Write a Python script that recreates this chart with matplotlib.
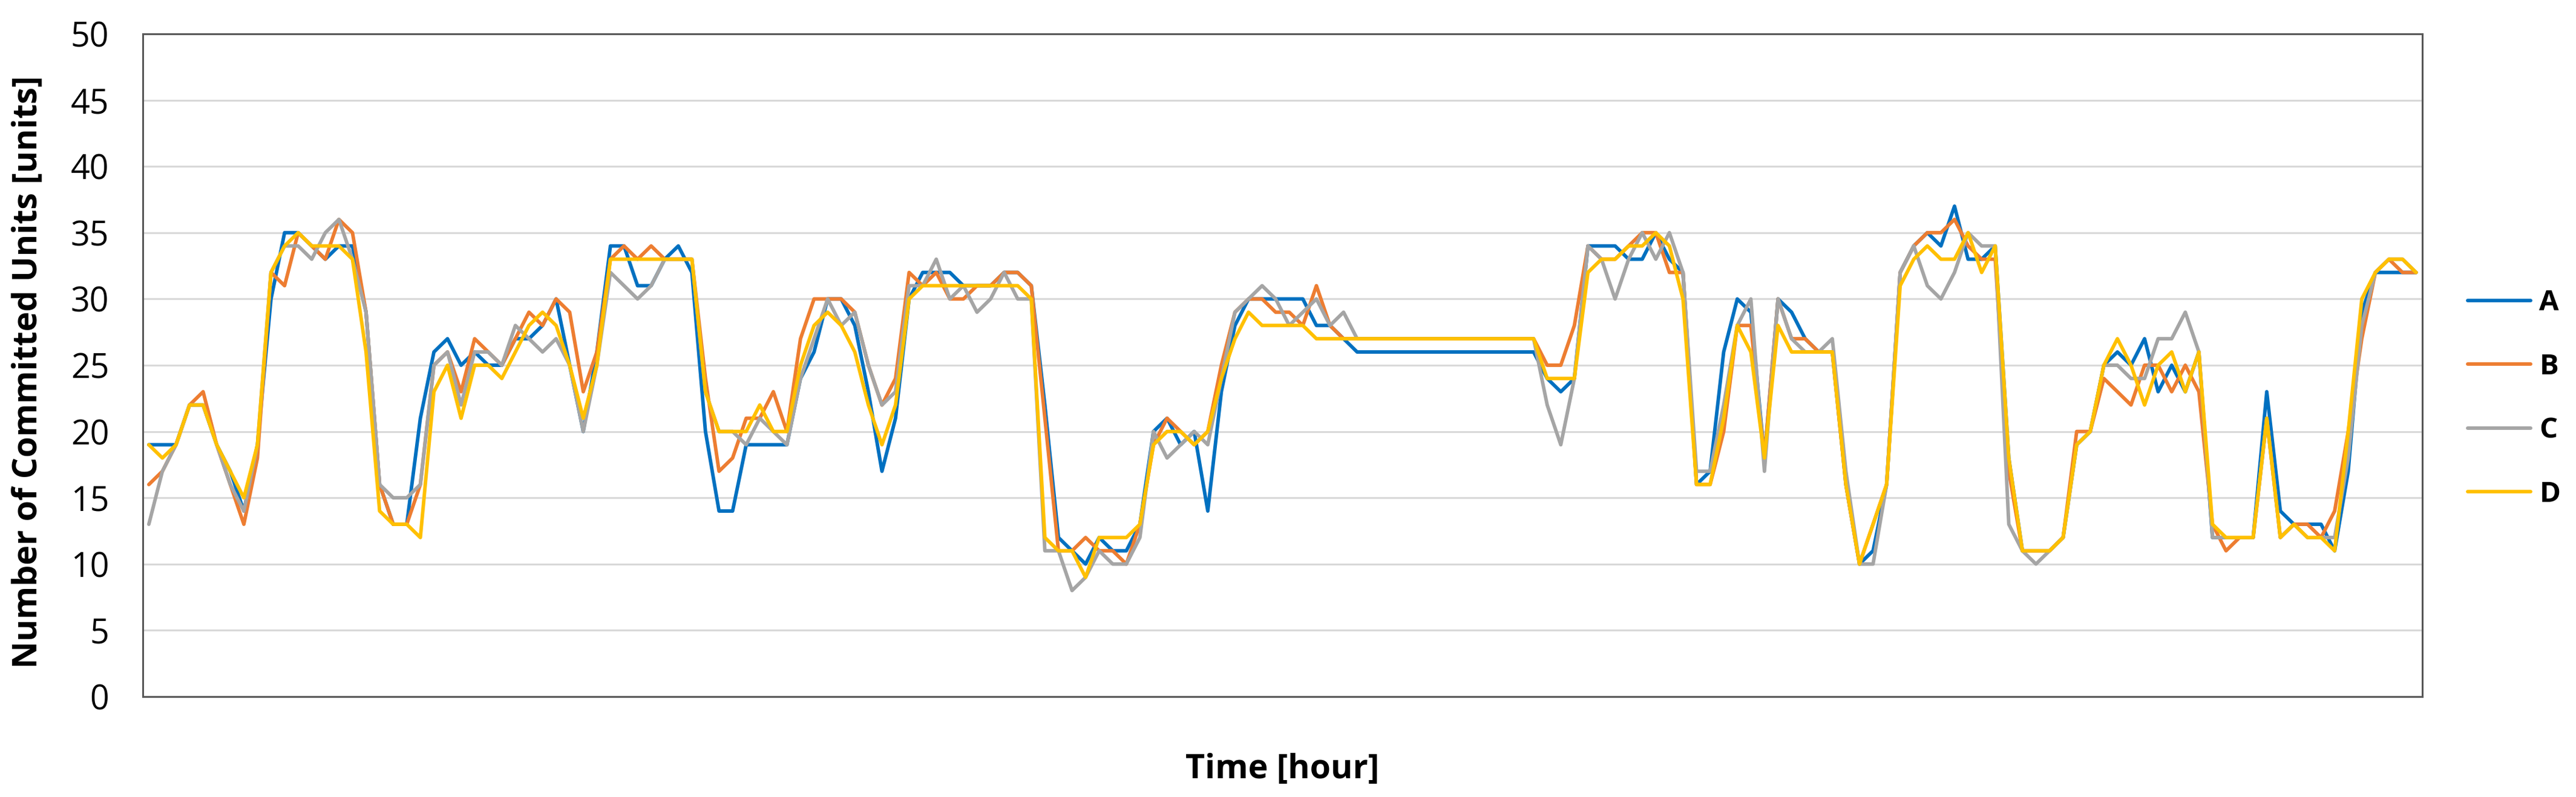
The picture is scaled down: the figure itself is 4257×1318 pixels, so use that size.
import matplotlib
matplotlib.use("Agg")
import matplotlib.pyplot as plt
import numpy as np

plt.rcParams['font.family'] = ['Open Sans', 'DejaVu Sans']

series_names = ["A", "B", "C", "D"]
colors = ["#0070C0", "#ED7D31", "#A5A5A5", "#FFC000"]

A = [19, 19, 19, 22, 22, 19, 17, 14, 19, 30, 35, 35, 34, 33, 34, 34, 29, 16, 13, 13,
     21, 26, 27, 25, 26, 25, 25, 27, 27, 28, 30, 25, 20, 26, 34, 34, 31, 31, 33, 34,
     32, 20, 14, 14, 19, 19, 19, 19, 24, 26, 30, 30, 28, 23, 17, 21, 30, 32, 32, 32,
     31, 31, 31, 32, 32, 31, 22, 12, 11, 10, 12, 11, 11, 13, 20, 21, 19, 20, 14, 23,
     28, 30, 30, 30, 30, 30, 28, 28, 27, 26, 26, 26, 26, 26, 26, 26, 26, 26, 26, 26,
     26, 26, 26, 24, 23, 24, 34, 34, 34, 33, 33, 35, 33, 32, 16, 17, 26, 30, 29, 18,
     30, 29, 27, 26, 26, 16, 10, 11, 16, 32, 34, 35, 34, 37, 33, 33, 34, 18, 11, 11,
     11, 12, 19, 20, 25, 26, 25, 27, 23, 25, 23, 26, 12, 12, 12, 12, 23, 14, 13, 13,
     13, 11, 17, 29, 32, 32, 32, 32]
B = [16, 17, 19, 22, 23, 19, 16, 13, 18, 32, 31, 35, 34, 33, 36, 35, 29, 16, 13, 13,
     16, 25, 26, 23, 27, 26, 25, 27, 29, 28, 30, 29, 23, 26, 33, 34, 33, 34, 33, 33,
     33, 24, 17, 18, 21, 21, 23, 20, 27, 30, 30, 30, 29, 25, 22, 24, 32, 31, 32, 30,
     30, 31, 31, 32, 32, 31, 21, 11, 11, 12, 11, 11, 10, 13, 19, 21, 20, 19, 20, 25,
     29, 30, 30, 29, 29, 28, 31, 28, 27, 27, 27, 27, 27, 27, 27, 27, 27, 27, 27, 27,
     27, 27, 27, 25, 25, 28, 34, 33, 33, 34, 35, 35, 32, 32, 16, 16, 20, 28, 28, 18,
     30, 27, 27, 26, 26, 16, 10, 13, 16, 32, 34, 35, 35, 36, 34, 33, 33, 17, 11, 11,
     11, 12, 20, 20, 24, 23, 22, 25, 25, 23, 25, 23, 13, 11, 12, 12, 21, 12, 13, 13,
     12, 14, 20, 27, 32, 33, 32, 32]
C = [13, 17, 19, 22, 22, 19, 16, 14, 19, 32, 34, 34, 33, 35, 36, 33, 29, 16, 15, 15,
     16, 25, 26, 22, 26, 26, 25, 28, 27, 26, 27, 25, 20, 25, 32, 31, 30, 31, 33, 33,
     33, 23, 20, 20, 19, 21, 20, 19, 24, 27, 30, 28, 29, 25, 22, 23, 31, 31, 33, 30,
     31, 29, 30, 32, 30, 30, 11, 11, 8, 9, 11, 10, 10, 12, 20, 18, 19, 20, 19, 24,
     29, 30, 31, 30, 28, 29, 30, 28, 29, 27, 27, 27, 27, 27, 27, 27, 27, 27, 27, 27,
     27, 27, 27, 22, 19, 24, 34, 33, 30, 33, 35, 33, 35, 32, 17, 17, 22, 28, 30, 17,
     30, 27, 26, 26, 27, 17, 10, 10, 16, 32, 34, 31, 30, 32, 35, 34, 34, 13, 11, 10,
     11, 12, 19, 20, 25, 25, 24, 24, 27, 27, 29, 26, 12, 12, 12, 12, 21, 12, 13, 12,
     12, 12, 18, 28, 32, 33, 33, 32]
D = [19, 18, 19, 22, 22, 19, 17, 15, 19, 32, 34, 35, 34, 34, 34, 33, 26, 14, 13, 13,
     12, 23, 25, 21, 25, 25, 24, 26, 28, 29, 28, 25, 21, 25, 33, 33, 33, 33, 33, 33,
     33, 23, 20, 20, 20, 22, 20, 20, 25, 28, 29, 28, 26, 22, 19, 22, 30, 31, 31, 31,
     31, 31, 31, 31, 31, 30, 12, 11, 11, 9, 12, 12, 12, 13, 19, 20, 20, 19, 20, 24,
     27, 29, 28, 28, 28, 28, 27, 27, 27, 27, 27, 27, 27, 27, 27, 27, 27, 27, 27, 27,
     27, 27, 27, 24, 24, 24, 32, 33, 33, 34, 34, 35, 34, 30, 16, 16, 21, 28, 26, 18,
     28, 26, 26, 26, 26, 16, 10, 13, 16, 31, 33, 34, 33, 33, 35, 32, 34, 18, 11, 11,
     11, 12, 19, 20, 25, 27, 25, 22, 25, 26, 23, 26, 13, 12, 12, 12, 21, 12, 13, 12,
     12, 11, 20, 30, 32, 33, 33, 32]

hours = np.arange(len(A))

fig = plt.figure(figsize=(42.57, 13.18), dpi=100)
ax = fig.add_axes([0.0554, 0.1260, 0.8849, 0.8315])

for name, vals, c in zip(series_names, [A, B, C, D], colors):
    ax.plot(hours, vals, color=c, lw=4.2, label=name, solid_joinstyle='round',
            solid_capstyle='round')

ax.set_xlim(-0.45, 167.45)
ax.set_ylim(0, 50)
ax.set_yticks(range(0, 51, 5))
ax.set_xticks([])
ax.tick_params(axis='y', length=0, labelsize=40, pad=40, labelcolor='#000000')
ax.grid(axis='y', color='#D9D9D9', lw=2.2)
ax.set_axisbelow(True)
for s in ax.spines.values():
    s.set_color('#595959')
    s.set_linewidth(2.2)

ax.set_ylabel("Number of Committed Units [units]", fontsize=40, fontweight='bold')
ax.set_xlabel("Time [hour]", fontsize=40, fontweight='bold')
ax.yaxis.set_label_coords(-0.0430, 0.49)
ax.xaxis.set_label_coords(0.5, -0.085)

fig.legend(loc='center left', bbox_to_anchor=(0.958, 0.50), frameon=False,
           prop={'size': 34, 'weight': 'bold'}, handlelength=2.2, handletextpad=0.3,
           labelspacing=1.24, borderpad=0, borderaxespad=0)

fig.savefig("out.png", dpi=100)
